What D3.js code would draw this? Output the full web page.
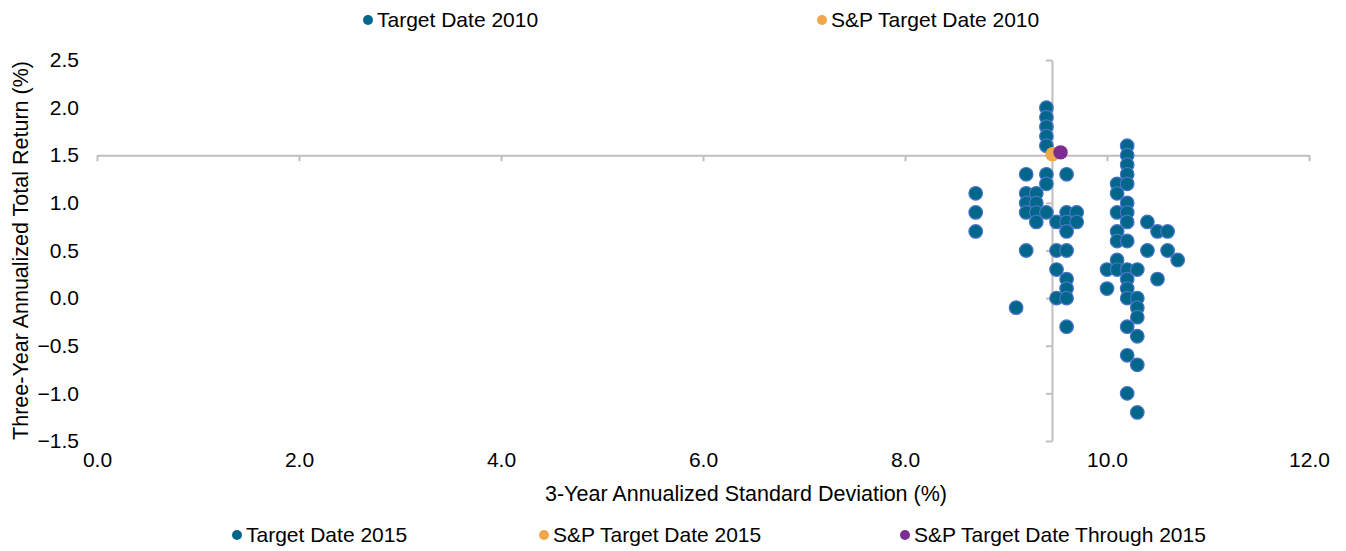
<!DOCTYPE html>
<html>
<head>
<meta charset="utf-8">
<script src="https://cdn.jsdelivr.net/npm/d3@7"></script>
<style>
    body { margin: 0; background: #fff; }
    svg text { font-family: "Liberation Sans", Arial, sans-serif; fill: #000; }
</style>
</head>
<body>
<div id="chart"></div>
<script>
// Target Date 2015 funds: std dev (x) and 3-yr return (y)
const fundStdDev = [
    8.7, 8.7, 8.7,
    9.1,
    9.2, 9.2, 9.2, 9.2, 9.2,
    9.3, 9.3, 9.3, 9.3,
    9.4, 9.4, 9.4, 9.4, 9.4, 9.4, 9.4, 9.4,
    9.5, 9.5, 9.5, 9.5,
    9.6, 9.6, 9.6, 9.6, 9.6, 9.6, 9.6, 9.6, 9.6,
    9.7, 9.7,
    10.0, 10.0,
    10.1, 10.1, 10.1, 10.1, 10.1, 10.1, 10.1,
    10.2, 10.2, 10.2, 10.2, 10.2, 10.2, 10.2, 10.2, 10.2, 10.2, 10.2, 10.2, 10.2, 10.2, 10.2, 10.2,
    10.3, 10.3, 10.3, 10.3, 10.3, 10.3, 10.3,
    10.4, 10.4,
    10.5, 10.5,
    10.6, 10.6,
    10.7
];
const fundReturn = [
    1.1, 0.9, 0.7,
    -0.1,
    1.3, 1.1, 1.0, 0.9, 0.5,
    1.1, 1.0, 0.9, 0.8,
    2.0, 1.9, 1.8, 1.7, 1.6, 1.3, 1.2, 0.9,
    0.8, 0.5, 0.3, 0.0,
    1.3, 0.9, 0.8, 0.7, 0.5, 0.2, 0.1, 0.0, -0.3,
    0.9, 0.8,
    0.3, 0.1,
    1.2, 1.1, 0.9, 0.7, 0.6, 0.4, 0.3,
    1.6, 1.5, 1.4, 1.3, 1.2, 1.0, 0.9, 0.8, 0.6, 0.3, 0.2, 0.1, 0.0, -0.3, -0.6, -1.0,
    0.3, 0.0, -0.1, -0.2, -0.4, -0.7, -1.2,
    0.8, 0.5,
    0.7, 0.2,
    0.7, 0.5,
    0.4
];

// S&P indexes
const spNames = ["S&P Target Date 2015", "S&P Target Date Through 2015"];
const spStdDev = [9.46, 9.54];
const spReturn = [1.51, 1.53];

const xTicks = [0, 2, 4, 6, 8, 10, 12];
const yTicks = [-1.5, -1.0, -0.5, 0.0, 0.5, 1.0, 1.5, 2.0, 2.5];
const xCross = 9.455;
const yCross = 1.5;

const topLegend = ["Target Date 2010", "S&P Target Date 2010"];
const bottomLegend = ["Target Date 2015", "S&P Target Date 2015", "S&P Target Date Through 2015"];

class Scatter
{
    constructor(_config)
    {
        this.config =
        {
            parentElement: _config.parentElement,
            containerWidth: 1346,
            containerHeight: 551,
            left: 97, right: 1309, top: 60, bottom: 441,
            teal: "#00678b",
            tealStroke: "#4a74c8",
            orange: "#f2a74a",
            purple: "#7d2d8f",
            axisColor: "#bfbfbf",
            fontSize: 21,
            titleSize: 21.5
        };
        this.initChart();
    }

    initChart()
    {
        let vis = this;
        let c = vis.config;

        vis.svg = d3.select(c.parentElement).append("svg")
            .attr("width", c.containerWidth)
            .attr("height", c.containerHeight);

        vis.x = d3.scaleLinear().domain([0, 12]).range([c.left, c.right]);
        vis.y = d3.scaleLinear().domain([-1.5, 2.5]).range([c.bottom, c.top]);

        // axis lines crossing inside the plot
        vis.svg.append("g")
            .attr("transform", `translate(0, ${vis.y(yCross)})`)
            .call(d3.axisBottom(vis.x).tickValues(xTicks).tickSize(6).tickSizeOuter(0).tickFormat(""))
            .call((g) => g.selectAll("line, path").attr("stroke", c.axisColor).attr("stroke-width", 2));

        vis.svg.append("g")
            .attr("transform", `translate(${vis.x(xCross)}, 0)`)
            .call(d3.axisLeft(vis.y).tickValues(yTicks).tickSize(6).tickSizeOuter(0).tickFormat(""))
            .call((g) => g.selectAll("line, path").attr("stroke", c.axisColor).attr("stroke-width", 2));

        // tick labels sit low / left
        vis.svg.append("g")
            .attr("transform", `translate(0, ${c.bottom + 8})`)
            .call(d3.axisBottom(vis.x).tickValues(xTicks).tickSize(0).tickFormat(d3.format(".1f")))
            .call((g) => g.select(".domain").remove())
            .call((g) => g.selectAll("text").style("font-size", c.fontSize + "px").attr("fill", "#000"));

        vis.svg.append("g")
            .attr("transform", `translate(${c.left - 15}, 0)`)
            .call(d3.axisLeft(vis.y).tickValues(yTicks).tickSize(0).tickFormat(d3.format(".1f")))
            .call((g) => g.select(".domain").remove())
            .call((g) => g.selectAll("text").style("font-size", c.fontSize + "px").attr("fill", "#000"));

        vis.svg.append("text")
            .attr("x", 746)
            .attr("y", 501)
            .attr("text-anchor", "middle")
            .style("font-size", c.titleSize + "px")
            .text("3-Year Annualized Standard Deviation (%)");

        vis.svg.append("text")
            .attr("transform", `translate(28, ${(c.top + c.bottom) / 2}) rotate(-90)`)
            .attr("text-anchor", "middle")
            .style("font-size", c.titleSize + "px")
            .text("Three-Year Annualized Total Return (%)");

        vis.drawPoints();
        vis.drawLegend();
    }

    drawPoints()
    {
        let vis = this;
        let c = vis.config;

        vis.svg.append("g")
            .selectAll("circle")
            .data(d3.range(fundStdDev.length))
            .enter().append("circle")
            .attr("cx", (i) => vis.x(fundStdDev[i]))
            .attr("cy", (i) => vis.y(fundReturn[i]))
            .attr("r", 6.8)
            .attr("fill", c.teal)
            .attr("stroke", c.tealStroke)
            .attr("stroke-width", 1.2);

        vis.svg.append("g")
            .selectAll("circle")
            .data(spNames)
            .enter().append("circle")
            .attr("cx", (d, i) => vis.x(spStdDev[i]))
            .attr("cy", (d, i) => vis.y(spReturn[i]))
            .attr("r", 7.2)
            .attr("fill", (d, i) => i == 0 ? c.orange : c.purple);
    }

    drawLegend()
    {
        let vis = this;
        let c = vis.config;
        let colors = [c.teal, c.orange, c.purple];

        let items = [
            {label: topLegend[0], x: 368, y: 20, color: colors[0]},
            {label: topLegend[1], x: 822, y: 20, color: colors[1]},
            {label: bottomLegend[0], x: 237, y: 535, color: colors[0]},
            {label: bottomLegend[1], x: 544, y: 535, color: colors[1]},
            {label: bottomLegend[2], x: 905, y: 535, color: colors[2]}
        ];

        let g = vis.svg.append("g").selectAll("g")
            .data(items)
            .enter().append("g")
            .attr("transform", (d) => `translate(${d.x}, ${d.y})`);

        g.append("circle")
            .attr("r", 5)
            .attr("fill", (d) => d.color);

        g.append("text")
            .attr("x", 9)
            .attr("dy", "0.35em")
            .style("font-size", c.fontSize + "px")
            .text((d) => d.label);
    }
}

new Scatter({parentElement: "#chart"});
</script>
</body>
</html>
